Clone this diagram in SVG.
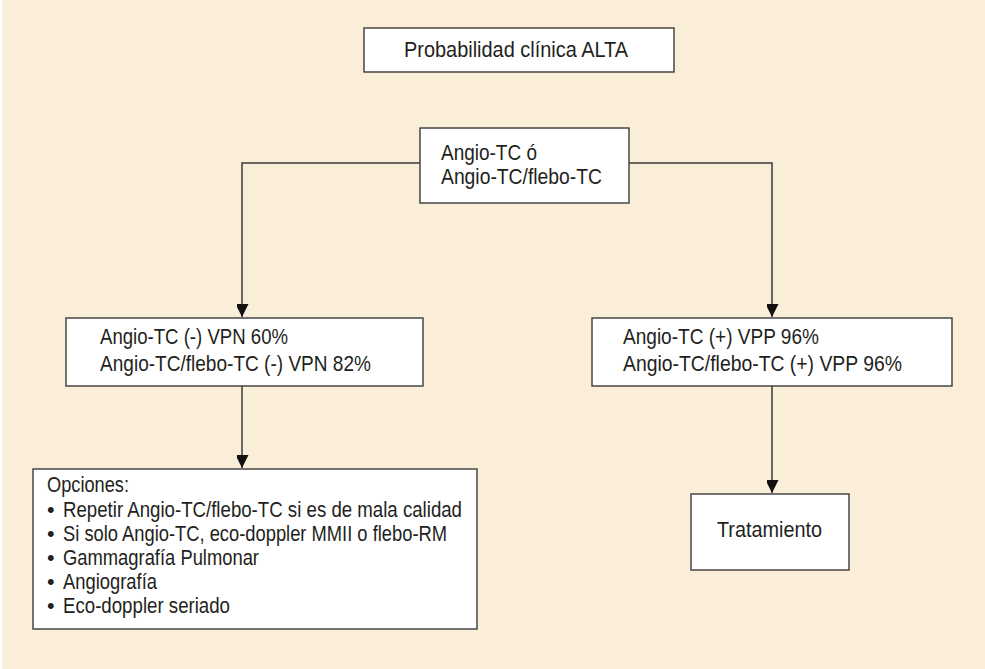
<svg xmlns="http://www.w3.org/2000/svg" width="985" height="669" viewBox="0 0 985 669">
<style>
.box{fill:#ffffff;stroke:#3a3a3a;stroke-width:1.4}
.t{font-family:"Liberation Sans",Arial,sans-serif;font-size:21.5px;fill:#231f20}
.c{fill:none;stroke:#3a3a3a;stroke-width:1.5}
</style>
<defs>
<marker id="ah" markerUnits="userSpaceOnUse" markerWidth="14" markerHeight="12" refX="13" refY="6.5" orient="auto">
<path d="M0,0 L13,6.5 L0,13 Z" fill="#111"/>
</marker>
</defs>
<rect x="0" y="0" width="985" height="669" fill="#ffffff"/>
<rect x="2" y="0" width="983" height="669" fill="#faeed8"/>
<g id="connectors">
<path class="c" d="M420,163 H242 V317" marker-end="url(#ah)"/>
<path class="c" d="M629,163 H772 V317" marker-end="url(#ah)"/>
<path class="c" d="M242,386 V468" marker-end="url(#ah)"/>
<path class="c" d="M772,386 V493" marker-end="url(#ah)"/>
</g>
<g id="n-prob">
<rect class="box" x="364" y="28" width="310" height="44"/>
<text class="t" x="404" y="57" textLength="224" lengthAdjust="spacingAndGlyphs">Probabilidad clínica ALTA</text>
</g>
<g id="n-angio">
<rect class="box" x="420" y="128" width="209" height="75"/>
<text class="t" x="441" y="160" textLength="96" lengthAdjust="spacingAndGlyphs">Angio-TC ó</text>
<text class="t" x="441" y="184" textLength="161" lengthAdjust="spacingAndGlyphs">Angio-TC/flebo-TC</text>
</g>
<g id="n-neg">
<rect class="box" x="66" y="318" width="357" height="68"/>
<text class="t" x="100" y="344" textLength="188" lengthAdjust="spacingAndGlyphs">Angio-TC (-) VPN 60%</text>
<text class="t" x="100" y="371" textLength="271" lengthAdjust="spacingAndGlyphs">Angio-TC/flebo-TC (-) VPN 82%</text>
</g>
<g id="n-pos">
<rect class="box" x="592" y="318" width="360" height="68"/>
<text class="t" x="623" y="344" textLength="196" lengthAdjust="spacingAndGlyphs">Angio-TC (+) VPP 96%</text>
<text class="t" x="623" y="371" textLength="279" lengthAdjust="spacingAndGlyphs">Angio-TC/flebo-TC (+) VPP 96%</text>
</g>
<g id="n-opciones">
<rect class="box" x="33" y="469" width="444" height="160"/>
<text class="t" x="47" y="492" textLength="82" lengthAdjust="spacingAndGlyphs">Opciones:</text>
<text class="t" x="47" y="517">•</text>
<text class="t" x="63" y="517" textLength="399" lengthAdjust="spacingAndGlyphs">Repetir Angio-TC/flebo-TC si es de mala calidad</text>
<text class="t" x="47" y="541">•</text>
<text class="t" x="63" y="541" textLength="384" lengthAdjust="spacingAndGlyphs">Si solo Angio-TC, eco-doppler MMII o flebo-RM</text>
<text class="t" x="47" y="565">•</text>
<text class="t" x="63" y="565" textLength="196" lengthAdjust="spacingAndGlyphs">Gammagrafía Pulmonar</text>
<text class="t" x="47" y="589">•</text>
<text class="t" x="63" y="589" textLength="94" lengthAdjust="spacingAndGlyphs">Angiografía</text>
<text class="t" x="47" y="613">•</text>
<text class="t" x="63" y="613" textLength="167" lengthAdjust="spacingAndGlyphs">Eco-doppler seriado</text>
</g>
<g id="n-trat">
<rect class="box" x="691" y="494" width="158" height="76"/>
<text class="t" x="717" y="537" textLength="105" lengthAdjust="spacingAndGlyphs">Tratamiento</text>
</g>
</svg>
